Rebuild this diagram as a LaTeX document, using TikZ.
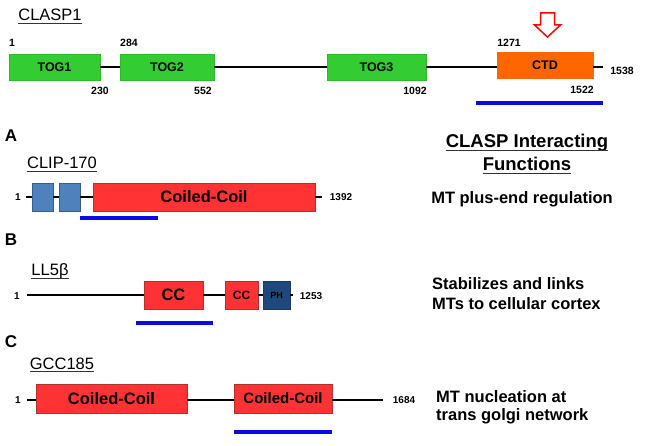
\documentclass[tikz,border=0pt]{standalone}
\usepackage{fontspec}
\setmainfont{Liberation Sans}
\definecolor{tog}{HTML}{33CC33}
\definecolor{togb}{HTML}{2DB82D}
\definecolor{ctd}{HTML}{FF6600}
\definecolor{ccred}{HTML}{FF3333}
\definecolor{ccredb}{HTML}{B03030}
\definecolor{sblue}{HTML}{4F81BD}
\definecolor{sblueb}{HTML}{385D8A}
\definecolor{navy}{HTML}{1F497D}
\definecolor{uline}{HTML}{0A0AE6}
\newcommand{\fs}[1]{\fontsize{#1}{#1}\selectfont}
\tikzset{
  dom/.style={rectangle, inner sep=0pt, font=\bfseries\fs{#1}},
  num/.style={inner sep=0pt, anchor=base, font=\bfseries\fs{10.5}},
  lbl/.style={inner sep=0pt, anchor=base, font=\fs{16.5}},
  panel/.style={inner sep=0pt, anchor=base, font=\bfseries\fs{17}},
  func/.style={inner sep=0pt, anchor=base, font=\bfseries\fs{16.5}},
  bb/.style={line width=2.6pt, black},
  bl/.style={line width=3.6pt, uline},
  ul/.style={line width=0.9pt, black!80}
}
\begin{document}
\begin{tikzpicture}[x=1pt,y=-1pt]
\useasboundingbox (0,0) rectangle (645,446);
% ---------- CLASP1 ----------
\node[lbl] (clasp) at (50,21) {CLASP1};
\draw[ul] ([yshift=-2.5pt]clasp.base west) -- ([yshift=-2.5pt]clasp.base east);
\node[dom=12.5, fill=tog, draw=togb, minimum width=91, minimum height=26] (tog1) at (54.5,67) {TOG1};
\node[dom=12.5, fill=tog, draw=togb, minimum width=94, minimum height=26] (tog2) at (167,67) {TOG2};
\node[dom=12.5, fill=tog, draw=togb, minimum width=99, minimum height=26] (tog3) at (376.5,67) {TOG3};
\node[dom=12.5, fill=ctd, draw=ctd, minimum width=96, minimum height=26] (ctd) at (545,65) {CTD};
\coordinate (cend) at (603,67);
\draw[bb] (tog1.east) -- (tog2.west);
\draw[bb] (tog2.east) -- (tog3.west);
\draw[bb] (tog3.east) -- (ctd.west |- tog3.east);
\draw[bb] (ctd.east |- cend) -- (cend);
\node[num] (n1) at (12,47) {1};
\node[num] (n284) at (129,47) {284};
\node[num] (n230) at (100,95) {230};
\node[num] (n552) at (203,95) {552};
\node[num] (n1092) at (415,95) {1092};
\node[num] (n1271) at (509,47) {1271};
\node[num] (n1522) at (582,94) {1522};
\node[num] (n1538) at (622,75) {1538};
\coordinate (b1a) at (476,103);
\coordinate (b1b) at (603,103);
\draw[bl] (b1a) -- (b1b);
\draw[red, line width=1.5pt, line join=miter] (540.5,13) -- (554.5,13) -- (554.5,25) -- (560.5,25) -- (547.5,37) -- (534.5,25) -- (540.5,25) -- cycle;
% ---------- A: CLIP-170 ----------
\node[panel] (pa) at (11,142) {A};
\node[lbl] (clip) at (62,169) {CLIP-170};
\draw[ul] ([yshift=-2.5pt]clip.base west) -- ([yshift=-2.5pt]clip.base east);
\node[num, font=\bfseries\fs{10}] (a1) at (18,201) {1};
\coordinate (as) at (26,197);
\node[dom=12, fill=sblue, draw=sblueb, minimum width=21, minimum height=28] (ab1) at (42.5,197) {};
\node[dom=12, fill=sblue, draw=sblueb, minimum width=21, minimum height=28] (ab2) at (69.5,197) {};
\node[dom=16.5, fill=ccred, draw=ccredb, minimum width=222, minimum height=28] (acc) at (204,197) {Coiled-Coil};
\coordinate (ae) at (322,197);
\draw[bb] (as) -- (ab1.west);
\draw[bb] (ab1.east) -- (ab2.west);
\draw[bb] (ab2.east) -- (acc.west);
\draw[bb] (acc.east) -- (ae);
\node[num, font=\bfseries\fs{10}] (a1392) at (341,201) {1392};
\coordinate (b2a) at (80,218);
\coordinate (b2b) at (158,218);
\draw[bl] (b2a) -- (b2b);
% ---------- B: LL5beta ----------
\node[panel] (pb) at (11,246) {B};
\node[lbl] (ll) at (50,276) {LL5β};
\draw[ul] ([yshift=-2pt]ll.base west) -- ([yshift=-2pt]ll.base east);
\node[num, font=\bfseries\fs{10}] (b1) at (17,299) {1};
\coordinate (bs) at (27,295);
\node[dom=16.5, fill=ccred, draw=ccredb, minimum width=59, minimum height=28] (bcc) at (173.5,295) {CC};
\node[dom=12, fill=ccred, draw=ccredb, minimum width=33, minimum height=28] (bcc2) at (241.5,295) {CC};
\node[dom=9, fill=navy, draw=navy!80!black, minimum width=27, minimum height=28] (bph) at (276.5,295) {PH};
\coordinate (be) at (293,295);
\draw[bb] (bs) -- (bcc.west);
\draw[bb] (bcc.east) -- (bcc2.west);
\draw[bb] (bcc2.east) -- (bph.west);
\draw[bb] (bph.east) -- (be);
\node[num, font=\bfseries\fs{10}] (b1253) at (311,299) {1253};
\coordinate (b3a) at (136,323);
\coordinate (b3b) at (213,323);
\draw[bl] (b3a) -- (b3b);
% ---------- C: GCC185 ----------
\node[panel] (pc) at (11,347) {C};
\node[lbl] (gcc) at (62,369) {GCC185};
\draw[ul] ([yshift=-2.5pt]gcc.base west) -- ([yshift=-2.5pt]gcc.base east);
\node[num, font=\bfseries\fs{10}] (c1) at (18,403) {1};
\coordinate (cs) at (27,400);
\node[dom=16.5, fill=ccred, draw=ccredb, minimum width=151, minimum height=29] (ccc1) at (111.5,398.5) {Coiled-Coil};
\node[dom=15, fill=ccred, draw=ccredb, minimum width=98, minimum height=29] (ccc2) at (283,398.5) {Coiled-Coil};
\coordinate (ce) at (383,400);
\draw[bb] (cs) -- (ccc1.west |- cs);
\draw[bb] (ccc1.east |- cs) -- (ccc2.west |- cs);
\draw[bb] (ccc2.east |- cs) -- (ce);
\node[num, font=\bfseries\fs{10}] (c1684) at (404,403) {1684};
\coordinate (b4a) at (234,432);
\coordinate (b4b) at (332,432);
\draw[bl] (b4a) -- (b4b);
% ---------- functions ----------
\node[func, font=\bfseries\fs{18.5}] (h1) at (527,148) {CLASP Interacting};
\draw[ul] ([yshift=-2.5pt]h1.base west) -- ([yshift=-2.5pt]h1.base east);
\node[func, font=\bfseries\fs{18.5}] (h2) at (527,171) {Functions};
\draw[ul] ([yshift=-2.5pt]h2.base west) -- ([yshift=-2.5pt]h2.base east);
\node[func] (f1) at (522,204) {MT plus-end regulation};
\node[func, anchor=base west] (f2) at (432,290) {Stabilizes and links};
\node[func, anchor=base west] (f3) at (432,309) {MTs to cellular cortex};
\node[func, anchor=base west] (f4) at (436,402) {MT nucleation at};
\node[func, anchor=base west] (f5) at (436,420) {trans golgi network};
\end{tikzpicture}
\end{document}
